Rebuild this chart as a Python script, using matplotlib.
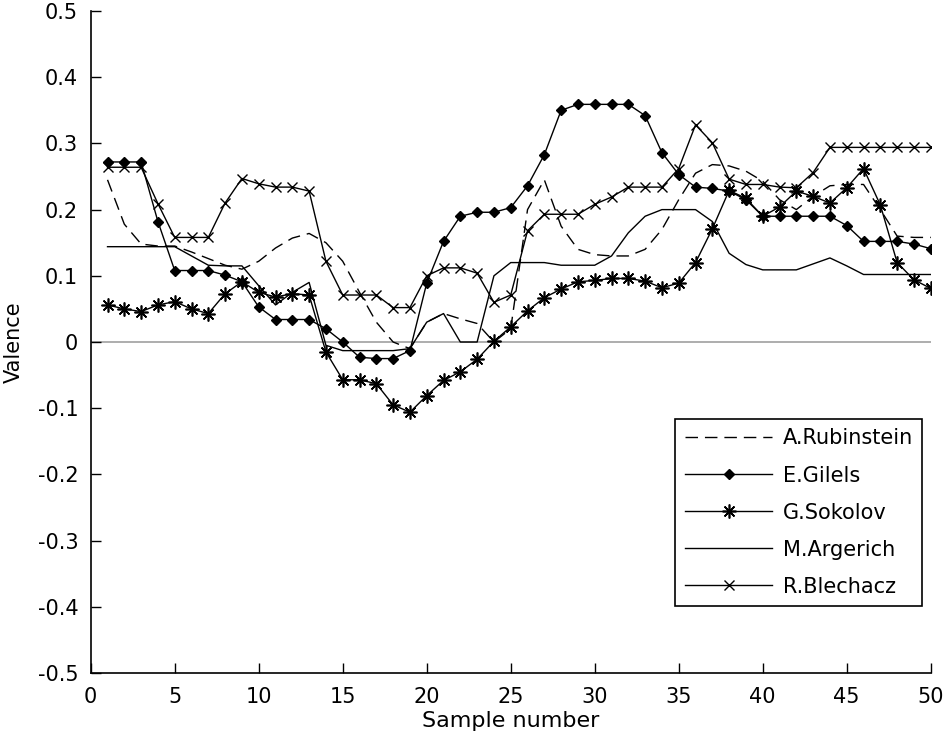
import matplotlib
matplotlib.use("Agg")
import matplotlib.pyplot as plt

plt.rcParams['font.family'] = ['DejaVu Sans']

# sample numbers 1..50
samples = list(range(1, 51))

rubinstein = [0.245, 0.178, 0.148, 0.145, 0.145, 0.136, 0.126, 0.116, 0.11, 0.122,
              0.142, 0.157, 0.164, 0.15, 0.122, 0.075, 0.03, 0.0, -0.01, 0.03,
              0.043, 0.035, 0.028, 0.0, 0.02, 0.2, 0.245, 0.175, 0.14, 0.132,
              0.13, 0.13, 0.14, 0.17, 0.215, 0.255, 0.268, 0.266, 0.258, 0.243,
              0.215, 0.2, 0.22, 0.236, 0.238, 0.238, 0.2, 0.16, 0.158, 0.158]

gilels = [0.272, 0.272, 0.272, 0.182, 0.108, 0.108, 0.108, 0.101, 0.091, 0.053,
          0.034, 0.034, 0.034, 0.02, 0.0, -0.023, -0.025, -0.025, -0.013, 0.089,
          0.152, 0.19, 0.196, 0.196, 0.203, 0.236, 0.283, 0.35, 0.359, 0.359,
          0.359, 0.359, 0.342, 0.286, 0.253, 0.234, 0.232, 0.228, 0.215, 0.19,
          0.19, 0.19, 0.19, 0.19, 0.176, 0.152, 0.152, 0.152, 0.148, 0.141]

sokolov = [0.056, 0.05, 0.046, 0.056, 0.061, 0.05, 0.043, 0.073, 0.091, 0.075,
           0.068, 0.073, 0.071, -0.015, -0.057, -0.057, -0.063, -0.095, -0.106, -0.081,
           -0.058, -0.045, -0.026, 0.001, 0.023, 0.047, 0.067, 0.08, 0.091, 0.093,
           0.096, 0.096, 0.092, 0.082, 0.089, 0.12, 0.171, 0.229, 0.217, 0.19,
           0.204, 0.228, 0.22, 0.21, 0.233, 0.262, 0.207, 0.12, 0.094, 0.081]

argerich = [0.144, 0.144, 0.144, 0.144, 0.144, 0.13, 0.116, 0.115, 0.115, 0.085,
            0.056, 0.075, 0.09, -0.005, -0.013, -0.013, -0.013, -0.013, -0.01, 0.03,
            0.043, 0.0, 0.0, 0.1, 0.12, 0.12, 0.12, 0.116, 0.116, 0.116,
            0.13, 0.165, 0.19, 0.2, 0.2, 0.2, 0.182, 0.134, 0.117, 0.109,
            0.109, 0.109, 0.118, 0.127, 0.115, 0.102, 0.102, 0.102, 0.102, 0.102]

blechacz = [0.264, 0.264, 0.264, 0.209, 0.158, 0.158, 0.158, 0.21, 0.247, 0.239,
            0.234, 0.234, 0.228, 0.122, 0.071, 0.071, 0.071, 0.052, 0.052, 0.1,
            0.112, 0.112, 0.104, 0.06, 0.071, 0.168, 0.193, 0.193, 0.193, 0.208,
            0.219, 0.234, 0.234, 0.234, 0.262, 0.328, 0.301, 0.246, 0.238, 0.238,
            0.234, 0.233, 0.256, 0.294, 0.294, 0.294, 0.294, 0.294, 0.294, 0.294]

fig = plt.figure(figsize=(9.43, 7.44), dpi=100)
ax = fig.add_axes([0.0962, 0.0954, 0.8908, 0.8898])

ax.axhline(0, color='#a0a0a0', lw=1.2, zorder=1)

ax.plot(samples, rubinstein, color='black', lw=1.0, ls=(0, (9, 5)), label='A.Rubinstein')
ax.plot(samples, gilels, color='black', lw=1.0, marker='D', ms=5, label='E.Gilels')
ax.plot(samples, sokolov, color='black', lw=1.0, marker=(8, 2, 0), ms=10, mew=1.2, label='G.Sokolov')
ax.plot(samples, argerich, color='black', lw=1.0, label='M.Argerich')
ax.plot(samples, blechacz, color='black', lw=1.0, marker='x', ms=7, mew=1.0, label='R.Blechacz')

ax.set_xlim(0, 50)
ax.set_ylim(-0.5, 0.5)
ax.set_xticks(range(0, 51, 5))
ax.set_yticks([-0.5, -0.4, -0.3, -0.2, -0.1, 0, 0.1, 0.2, 0.3, 0.4, 0.5])
ax.set_yticklabels(['-0.5', '-0.4', '-0.3', '-0.2', '-0.1', '0', '0.1', '0.2', '0.3', '0.4', '0.5'])
ax.spines['top'].set_visible(False)
ax.spines['right'].set_visible(False)
ax.spines['left'].set_linewidth(1.2)
ax.spines['bottom'].set_linewidth(1.2)
ax.tick_params(direction='in', length=7, width=1.0, labelsize=15)
ax.tick_params(axis='x', pad=10)
ax.tick_params(axis='y', pad=9)

ax.set_xlabel('Sample number', fontsize=16, labelpad=3)
ax.set_ylabel('Valence', fontsize=15, labelpad=10)

leg = ax.legend(loc='lower right', bbox_to_anchor=(0.99, 0.101), fontsize=15,
                fancybox=False, edgecolor='black', framealpha=1,
                handlelength=4.2, handletextpad=0.5, labelspacing=0.82,
                borderpad=0.45, borderaxespad=0)
leg.get_frame().set_linewidth(1.2)

fig.savefig('out.png', dpi=100)
